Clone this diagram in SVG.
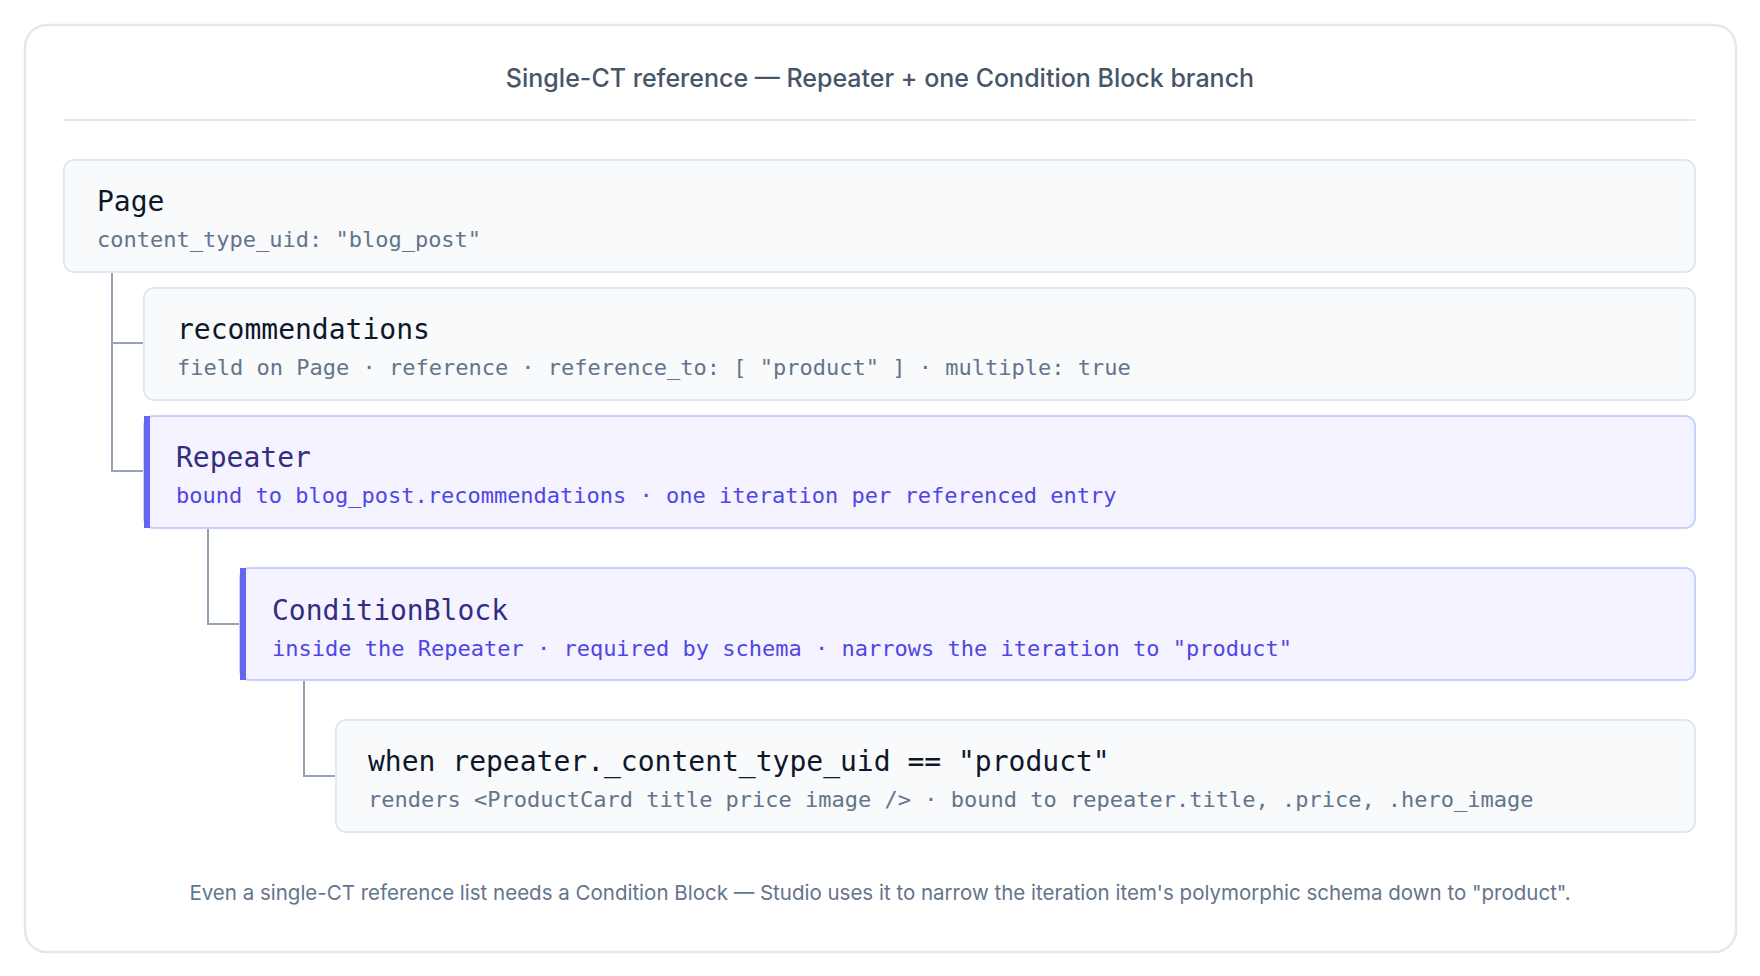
<svg xmlns="http://www.w3.org/2000/svg" width="1760" height="976" viewBox="0 0 1760 976">
<style>
.mono{font-family:"DejaVu Sans Mono","Liberation Mono",monospace}
.t{font-size:28px;fill:#0f172a}
.s{font-size:22px;fill:#64748b}
.n{fill:#f8fafc;stroke:#e2e8f0;stroke-width:2}
.h{fill:#f4f3ff;stroke:#c7d2fe;stroke-width:2}
.ht{font-size:28px;fill:#312e81}
.hs{font-size:22px;fill:#4f46e5}
.sans{font-family:Inter,"Liberation Sans",sans-serif}
</style>
<rect x="0" y="0" width="1760" height="976" fill="#fff"/>
<rect x="25" y="25" width="1711" height="927" rx="22" fill="#fff" stroke="#e2e8f0" stroke-width="2.5"/>
<text x="880" y="87" text-anchor="middle" class="sans" font-size="25" font-weight="500" fill="#475569">Single-CT reference — Repeater + one Condition Block branch</text>
<line x1="64" y1="120" x2="1695" y2="120" stroke="#e2e8f0" stroke-width="2"/>
<g id="connectors" fill="none" stroke="#94a3b8" stroke-width="2">
<path d="M112 272 V471 H144 M112 343 H144"/>
<path d="M208 528 V624 H240"/>
<path d="M304 679 V776 H336"/>
</g>
<g id="page"><rect class="n" x="64" y="160" width="1631" height="112" rx="10"/>
<text class="mono t" x="97" y="211">Page</text>
<text class="mono s" x="97" y="247">content_type_uid: "blog_post"</text></g>
<g id="recommendations"><rect class="n" x="144" y="288" width="1551" height="112" rx="10"/>
<text class="mono t" x="177" y="339">recommendations</text>
<text class="mono s" x="177" y="375">field on Page · reference · reference_to: [ "product" ] · multiple: true</text></g>
<g id="repeater"><rect class="h" x="144" y="416" width="1551" height="112" rx="10"/>
<rect x="144" y="416" width="6" height="112" fill="#6366f1"/>
<text class="mono ht" x="176" y="467">Repeater</text>
<text class="mono hs" x="176" y="503">bound to blog_post.recommendations · one iteration per referenced entry</text></g>
<g id="conditionblock"><rect class="h" x="240" y="568" width="1455" height="112" rx="10"/>
<rect x="240" y="568" width="6" height="112" fill="#6366f1"/>
<text class="mono ht" x="272" y="620">ConditionBlock</text>
<text class="mono hs" x="272" y="656">inside the Repeater · required by schema · narrows the iteration to "product"</text></g>
<g id="when"><rect class="n" x="336" y="720" width="1359" height="112" rx="10"/>
<text class="mono t" x="368" y="771">when repeater._content_type_uid == "product"</text>
<text class="mono s" x="368" y="807">renders &lt;ProductCard title price image /&gt; · bound to repeater.title, .price, .hero_image</text></g>
<text x="880" y="900" text-anchor="middle" class="sans" font-size="20.5" fill="#64748b">Even a single-CT reference list needs a Condition Block — Studio uses it to narrow the iteration item's polymorphic schema down to "product".</text>
</svg>
